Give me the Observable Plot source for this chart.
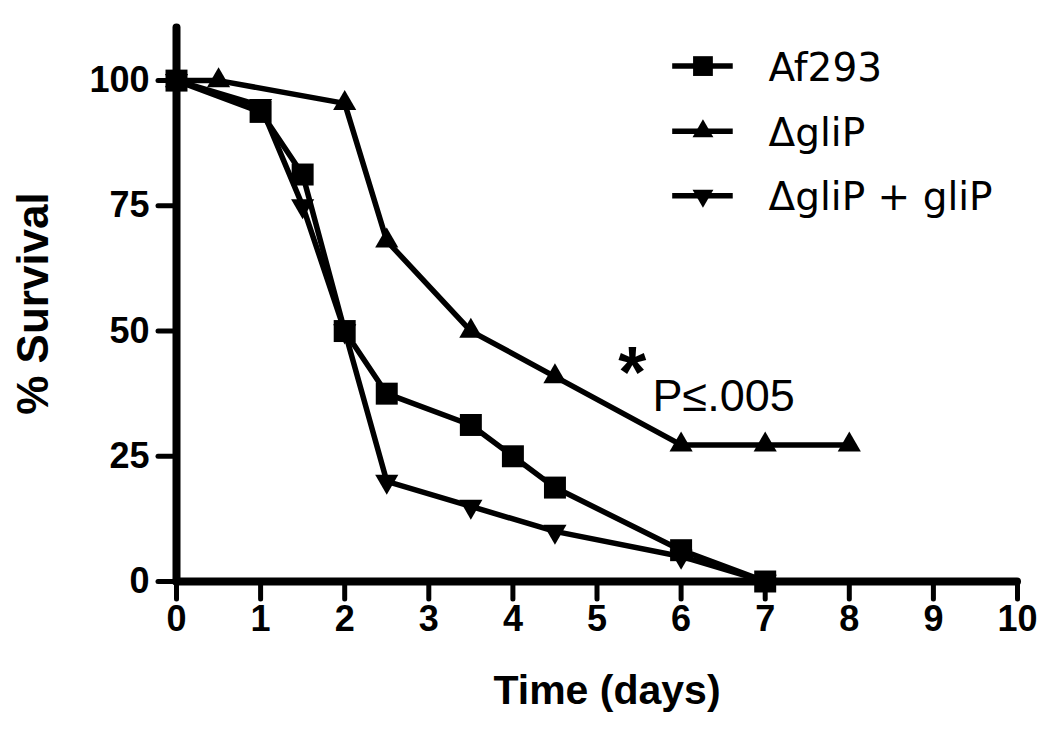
<!DOCTYPE html>
<html>
<head>
<meta charset="utf-8">
<script src="https://cdn.jsdelivr.net/npm/d3@7"></script>
<script src="https://cdn.jsdelivr.net/npm/@observablehq/plot@0.6"></script>
<style>
  html, body { margin: 0; padding: 0; background: #fff; }
  #chart svg { display: block; }
</style>
</head>
<body>
<div id="chart"></div>
<script>
// ---- data ----
const seriesNames = ["Af293", "\u0394gliP", "\u0394gliP + gliP"];
const daysAf293 = [0, 1, 1.5, 2, 2.5, 3.5, 4, 4.5, 6, 7];
const survAf293 = [100, 93.75, 81.25, 50, 37.5, 31.25, 25, 18.75, 6.25, 0];
const daysDgliP = [0, 0.5, 2, 2.5, 3.5, 4.5, 6, 7, 8];
const survDgliP = [100, 100, 95.45, 68, 50, 40.91, 27.27, 27.27, 27.27];
const daysRescue = [0, 1, 1.5, 2, 2.5, 3.5, 4.5, 6, 7];
const survRescue = [100, 95, 75, 50, 20, 15, 10, 5, 0];
const xTicks = [0, 1, 2, 3, 4, 5, 6, 7, 8, 9, 10];
const yTicks = [0, 25, 50, 75, 100];
const xLabel = "Time (days)";
const yLabel = "% Survival";
const starText = "*";
const pText = "P\u2264.005";

// ---- build table ----
const triangleDown = {
  draw(context, size) {
    const sqrt3 = Math.sqrt(3);
    const y = -Math.sqrt(size / (sqrt3 * 3));
    context.moveTo(0, -y * 2);
    context.lineTo(-sqrt3 * y, y);
    context.lineTo(sqrt3 * y, y);
    context.closePath();
  }
};
const symbols = ["square", "triangle", triangleDown];
const radii = [12.4, 8.6, 8.6];
const dayArrays = [daysAf293, daysDgliP, daysRescue];
const survArrays = [survAf293, survDgliP, survRescue];
const rows = seriesNames.flatMap((name, k) =>
  dayArrays[k].map((d, i) => ({series: name, day: d, surv: survArrays[k][i]})));

// legend layout (in data space of the plot)
const legendRows = seriesNames.map((name, k) => ({name, k, y: [102.9, 89.9, 77][k]}));

const marks = [
  Plot.axisX({ticks: xTicks, tickSize: 18, tickPadding: 6, strokeWidth: 5, strokeLinecap: "round",
    fontSize: 36, fontWeight: "bold", label: null}),
  Plot.axisY({ticks: yTicks, tickSize: 18, tickPadding: 9, strokeWidth: 5, strokeLinecap: "round",
    fontSize: 36, fontWeight: "bold", label: null}),
  Plot.ruleY([0], {x1: 0, x2: 10, strokeWidth: 8, strokeLinecap: "round"}),
  Plot.ruleX([0], {y1: 0, y2: 110.5, strokeWidth: 8, strokeLinecap: "round"}),
  Plot.line(rows, {x: "day", y: "surv", z: "series", stroke: "black", strokeWidth: 5.5, strokeLinejoin: "round"}),
  ...seriesNames.map((name, k) =>
    Plot.dot(rows.filter(r => r.series === name), {x: "day", y: "surv", symbol: symbols[k], r: radii[k], fill: "black", stroke: "none"})),
  // legend
  Plot.ruleY(legendRows, {y: "y", x1: 5.9, x2: 6.62, strokeWidth: 5.5}),
  ...legendRows.map(d => Plot.dot([d], {x: 6.26, y: "y", symbol: symbols[d.k], r: radii[d.k] * 0.9, fill: "black", stroke: "none"})),
  Plot.text(legendRows, {x: 7.04, y: "y", text: "name", textAnchor: "start", fontSize: 39,
    fontFamily: "'DejaVu Sans', 'Liberation Sans', sans-serif", dy: 2}),
  // annotation
  Plot.text([starText], {x: 5.42, y: 41.4, text: d => d, fontSize: 72, fontWeight: "bold", textAnchor: "middle"}),
  Plot.text([pText], {x: 5.66, y: 36.9, text: d => d, fontSize: 45, textAnchor: "start"}),
  // axis titles
  Plot.text([xLabel], {frameAnchor: "bottom", text: d => d, dy: 109, dx: 10, lineAnchor: "middle", textAnchor: "middle",
    fontSize: 41, fontWeight: "bold"}),
  Plot.text([yLabel], {frameAnchor: "left", text: d => d, dx: -143, rotate: -90, lineAnchor: "middle", textAnchor: "middle",
    fontSize: 44, fontWeight: "bold"})
];

const chart = Plot.plot({
  width: 1050,
  height: 733,
  marginLeft: 176,
  marginRight: 33,
  marginTop: 25,
  marginBottom: 152,
  x: {domain: [0, 10]},
  y: {domain: [0, 111]},
  style: {fontFamily: "'Liberation Sans', Arial, sans-serif", background: "white", color: "black", overflow: "visible"},
  marks
});
document.getElementById("chart").appendChild(chart);
</script>
</body>
</html>
